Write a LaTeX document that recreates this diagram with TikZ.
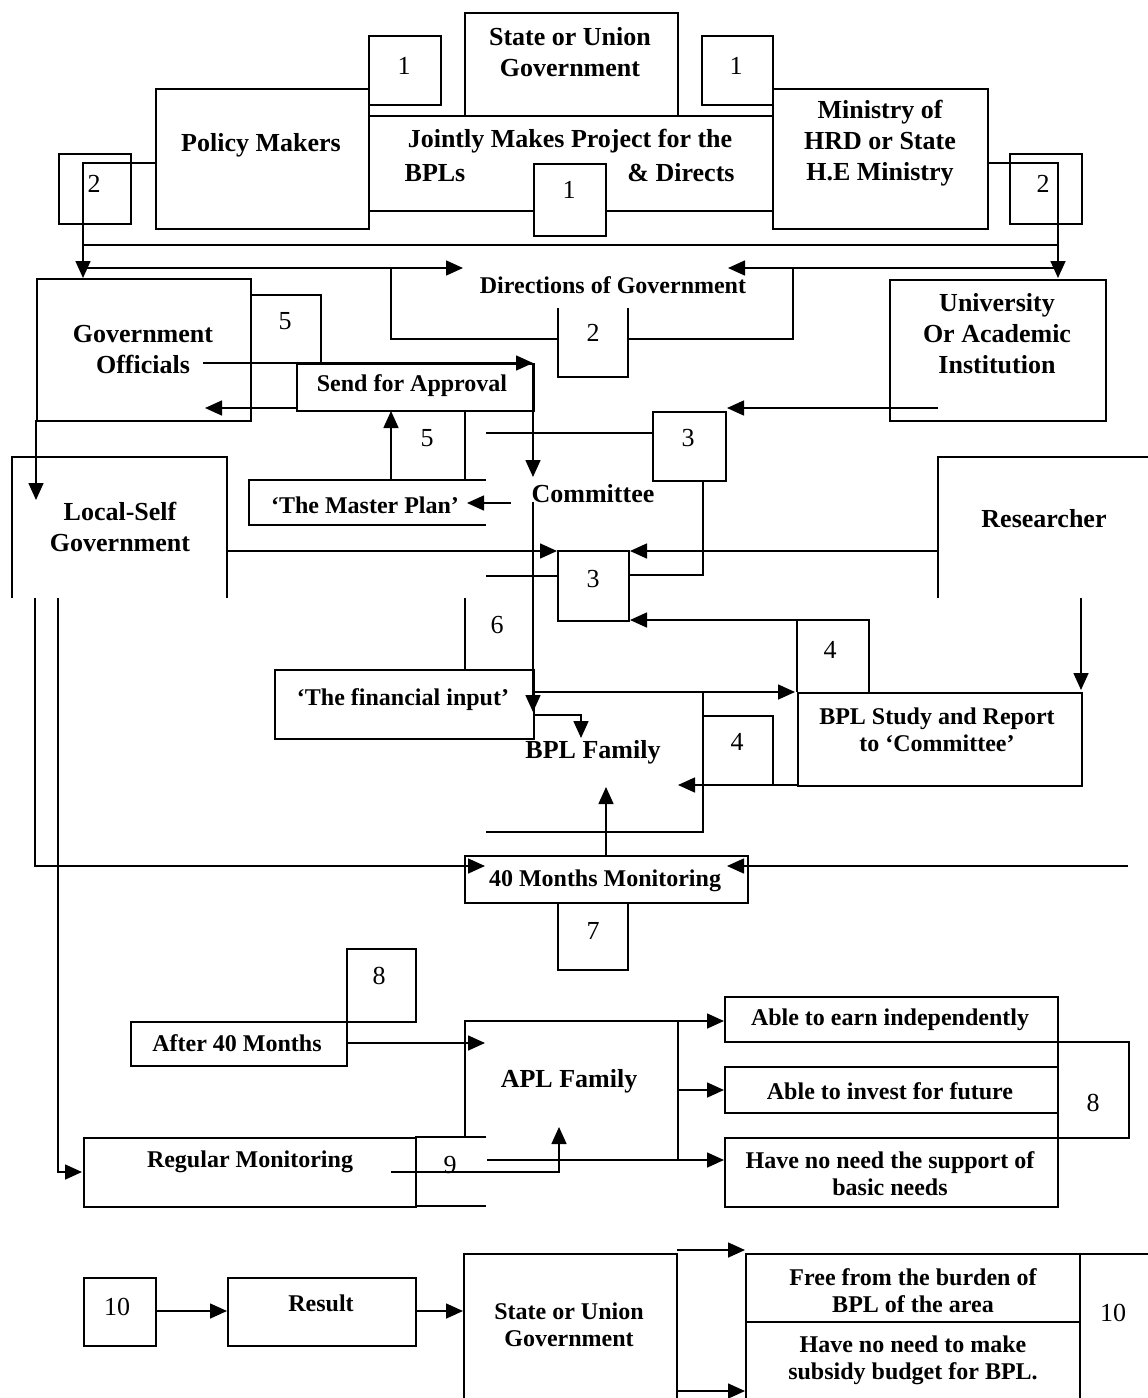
\documentclass[tikz,border=0pt]{standalone}
\usepackage{fontspec}
\setmainfont{Liberation Serif}
\usetikzlibrary{arrows.meta}
\begin{document}
\begin{tikzpicture}[x=1pt,y=-1pt,
  ln/.style={line width=1.6pt},
  ar/.style={line width=1.6pt,-{Triangle[length=17pt,width=15pt]}},
  bx/.style={draw,line width=1.6pt,inner sep=0pt,anchor=north west},
  tA/.style={font=\fontsize{26}{31}\selectfont\bfseries,align=center,inner sep=0pt},
  tB/.style={font=\fontsize{24}{27}\selectfont\bfseries,align=center,inner sep=0pt},
  nm/.style={font=\fontsize{26}{30}\selectfont,inner sep=0pt}]
\useasboundingbox (0,0) rectangle (1148,1398);
\fill[white] (0,0) rectangle (1148,1398);

% ---------- top row boxes
\node[bx,minimum width=213pt,minimum height=103pt] (sttop) at (464,12) {};
\node[bx,minimum width=72pt,minimum height=69pt] (oneA) at (368,35) {};
\node[bx,minimum width=71pt,minimum height=69pt] (oneB) at (701,35) {};
\node[bx,minimum width=213pt,minimum height=140pt] (policy) at (155,88) {};
\node[bx,minimum width=404pt,minimum height=95pt] (joint) at (368,115) {};
\node[bx,minimum width=215pt,minimum height=140pt] (ministry) at (772,88) {};
\node[bx,fill=white,minimum width=72pt,minimum height=72pt] (oneC) at (533,163) {};
\node[bx,minimum width=72pt,minimum height=70pt] (twoA) at (58,153) {};
\node[bx,minimum width=72pt,minimum height=70pt] (twoB) at (1009,153) {};

% ---------- second row
\node[bx,minimum width=214pt,minimum height=142pt] (govoff) at (36,278) {};
\draw[ln] (250,295) -- (321,295) -- (321,363);
\node[bx,minimum width=237pt,minimum height=47pt] (send) at (296,363) {};
\draw[ln] (486,480) -- (249,480) -- (249,525) -- (486,525);
\draw[ln] (465,411) -- (465,480);
\node[bx,minimum width=73pt,minimum height=69pt] (threeA) at (652,411) {};
\node[bx,minimum width=71pt,minimum height=70pt] (threeB) at (557,550) {};
\node[bx,minimum width=216pt,minimum height=141pt] (univ) at (889,279) {};
\draw[ln] (12,598) -- (12,457) -- (227,457) -- (227,598);
\draw[ln] (938,598) -- (938,457) -- (1148,457);
\node[bx,minimum width=259pt,minimum height=69pt] (fin) at (274,669) {};
\draw[ln] (465,598) -- (465,669);
\draw[ln] (703,692) -- (703,832) -- (486,832);
\draw[ln] (797,692) -- (797,620) -- (869,620) -- (869,692);
\node[bx,minimum width=284pt,minimum height=93pt] (study) at (797,692) {};
\draw[ln] (703,716) -- (773,716) -- (773,785);
\node[bx,minimum width=283pt,minimum height=47pt] (months) at (464,855) {};
\draw[ln] (558,902) -- (558,970) -- (628,970) -- (628,902);

% ---------- APL part
\node[bx,minimum width=69pt,minimum height=73pt] (eightA) at (346,948) {};
\node[bx,minimum width=216pt,minimum height=44pt] (after) at (130,1021) {};
\draw[ln] (465,1137) -- (465,1021) -- (678,1021) -- (678,1160);
\node[bx,minimum width=332pt,minimum height=69pt] (regmon) at (83,1137) {};
\draw[ln] (415,1137) -- (486,1137);
\draw[ln] (415,1206) -- (486,1206);
\node[bx,minimum width=333pt,minimum height=45pt] (earn) at (724,996) {};
\node[bx,minimum width=333pt,minimum height=46pt] (invest) at (724,1066) {};
\node[bx,minimum width=333pt,minimum height=69pt] (noneed) at (724,1137) {};
\node[bx,minimum width=71pt,minimum height=96pt] (eightB) at (1057,1041) {};

% ---------- bottom row
\node[bx,minimum width=72pt,minimum height=68pt] (tenA) at (83,1277) {};
\node[bx,minimum width=188pt,minimum height=68pt] (result) at (227,1277) {};
\draw[ln] (464,1398) -- (464,1254) -- (677,1254) -- (677,1398);
\draw[ln] (746,1398) -- (746,1254) -- (1148,1254);
\draw[ln] (1080,1254) -- (1080,1398);
\draw[ln] (746,1322) -- (1080,1322);

% ---------- connectors
\draw[ar] (155,163) -- (83,163) -- (83,278);
\draw[ar] (987,163) -- (1058,163) -- (1058,278);
\draw[ln] (83,245) -- (1058,245);
\draw[ar] (83,268) -- (463,268);
\draw[ar] (1058,268) -- (728,268);
\draw[ln] (391,268) -- (391,339) -- (558,339);
\draw[ln] (558,308) -- (558,377) -- (628,377) -- (628,308);
\draw[ln] (628,339) -- (793,339) -- (793,268);
\draw[ar] (203,363) -- (533,363);
\draw[ar] (533,363) -- (533,477);
\draw[ar] (296,408) -- (205,408);
\draw[ar] (36,420) -- (36,500);
\draw[ar] (391,480) -- (391,411);
\draw[ar] (511,503) -- (467,503);
\draw[ln] (486,433) -- (652,433);
\draw[ar] (938,408) -- (727,408);
\draw[ln] (703,480) -- (703,575) -- (628,575);
\draw[ar] (227,551) -- (557,551);
\draw[ar] (938,551) -- (630,551);
\draw[ln] (486,576) -- (557,576);
\draw[ar] (797,620) -- (630,620);
\draw[ar] (533,502) -- (533,712);
\draw[ar] (533,692) -- (795,692);
\draw[ar] (533,715) -- (581,715) -- (581,738);
\draw[ar] (797,785) -- (678,785);
\draw[ar] (1081,598) -- (1081,690);
\draw[ar] (606,855) -- (606,787);
\draw[ar] (35,598) -- (35,866) -- (485,866);
\draw[ar] (58,598) -- (58,1172) -- (82,1172);
\draw[ar] (1128,866) -- (727,866);
\draw[ar] (346,1043) -- (485,1043);
\draw[ar] (678,1021) -- (724,1021);
\draw[ar] (678,1090) -- (724,1090);
\draw[ar] (487,1160) -- (724,1160);
\draw[ar] (391,1172) -- (559,1172) -- (559,1127);
\draw[ar] (155,1311) -- (227,1311);
\draw[ar] (415,1311) -- (463,1311);
\draw[ar] (677,1250) -- (745,1250);
\draw[ar] (677,1391) -- (745,1391);

% ---------- texts
\node[tA] (tSt) at (570,52) {State or Union\\Government};
\node[nm] (n1a) at (404,66) {1};
\node[nm] (n1b) at (736,66) {1};
\node[nm] (n1c) at (569,190) {1};
\node[tA] (tPol) at (261,145) {Policy Makers};
\node[tA] (tJo) at (570,141) {Jointly Makes Project for the};
\node[tA] (tBpls) at (435,173) {BPLs};
\node[tA] (tDir) at (681,173) {\& Directs};
\node[tA] (tMin) at (880,143) {Ministry of\\HRD or State\\H.E Ministry};
\node[nm] (n2a) at (94,184) {2};
\node[nm] (n2b) at (1043,184) {2};
\node[nm] (n2c) at (593,333) {2};
\node[tB] (tDirG) at (613,285) {Directions of Government};
\node[tA] (tGov) at (143,350) {Government\\Officials};
\node[nm] (n5a) at (285,321) {5};
\node[nm] (n5b) at (427,438) {5};
\node[tB] (tSend) at (412,386) {Send for Approval};
\node[tA] (tCom) at (593,494) {Committee};
\node[nm] (n3a) at (688,438) {3};
\node[nm] (n3b) at (593,579) {3};
\node[tA] (tUni) at (997,334) {University\\Or Academic\\Institution};
\node[tA] (tLoc) at (120,527) {Local-Self\\Government};
\node[tA] (tRes) at (1044,519) {Researcher};
\node[tB] (tMas) at (365,505) {‘The Master Plan’};
\node[nm] (n6) at (497,625) {6};
\node[tB] (tFin) at (403,700) {‘The financial input’};
\node[tA] (tBpl) at (593,752) {BPL Family};
\node[nm] (n4a) at (830,650) {4};
\node[nm] (n4b) at (737,742) {4};
\node[tB] (tStu) at (937,730) {BPL Study and Report\\to ‘Committee’};
\node[tB] (tMon) at (605,881) {40 Months Monitoring};
\node[nm] (n7) at (593,931) {7};
\node[nm] (n8a) at (379,976) {8};
\node[nm] (n8b) at (1093,1103) {8};
\node[tB] (tAft) at (237,1043) {After 40 Months};
\node[tA] (tApl) at (569,1081) {APL Family};
\node[tB] (tReg) at (250,1162) {Regular Monitoring};
\node[nm] (n9) at (450,1165) {9};
\node[tB] (tEarn) at (890,1020) {Able to earn independently};
\node[tB] (tInv) at (890,1091) {Able to invest for future};
\node[tB] (tNo) at (890,1174) {Have no need the support of\\basic needs};
\node[nm] (n10a) at (117,1307) {10};
\node[nm] (n10b) at (1113,1313) {10};
\node[tB] (tRes2) at (321,1303) {Result};
\node[tB] (tStB) at (569,1325) {State or Union\\Government};
\node[tB] (tFree) at (913,1291) {Free from the burden of\\BPL of the area};
\node[tB] (tSub) at (913,1360) {Have no need to make\\subsidy budget for BPL.};
\end{tikzpicture}
\end{document}
